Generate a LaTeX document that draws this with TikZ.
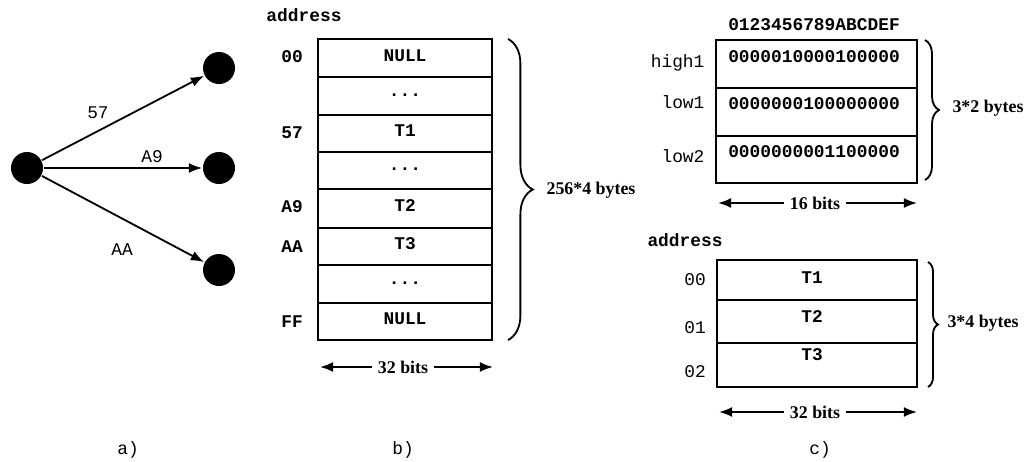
\documentclass[tikz,border=0pt]{standalone}
\usepackage{fontspec}
\setmainfont{Liberation Serif}
\setmonofont{Liberation Mono}
\usetikzlibrary{arrows.meta,decorations.pathreplacing}
\newcommand{\rowdots}{...}

\begin{document}
\begin{tikzpicture}[x=0.025cm,y=-0.025cm,line width=1.3pt,>={Latex[length=3.3mm,width=2.5mm]},
  mono/.style={font=\fontsize{12.7}{14}\selectfont\ttfamily},
  bmono/.style={font=\fontsize{12.7}{14}\selectfont\ttfamily\bfseries},
  note/.style={font=\fontsize{12.7}{14}\selectfont\bfseries},
  vertex/.style={circle,fill=black,inner sep=0pt,minimum size=0.8cm},
  outer/.style={line width=2pt},
  inner/.style={line width=1.3pt},
  bracer/.style={decorate,line width=1.3pt,decoration={brace,amplitude=#1}}]
  \useasboundingbox (0,0) rectangle (1024,461);
  % a) tree
  \node[vertex] (src) at (27,168) {};
  \node[vertex] (ta) at (219,68) {};
  \node[vertex] (tb) at (219,168) {};
  \node[vertex] (tc) at (219,270) {};
  \draw[->] (src) -- (ta);
  \draw[->] (src) -- (tb);
  \draw[->] (src) -- (tc);
  \node[mono] (l57) at (98,113) {57};
  \node[mono] (la9) at (152,157) {A9};
  \node[mono] (laa) at (122,250) {AA};
  \node[mono] (capa) at (128,450) {a)};
  % b) full table
  \node[bmono] (addrb) at (304,15) {address};
  \draw[outer] (318,39) rectangle (492,340);
  \foreach \y in {77,115,152,189,228,265,303}
    \draw[inner] (318,\y) -- (492,\y);
  \foreach \t/\y/\n in {NULL/56/b0,\rowdots/95/b1,T1/131/b2,\rowdots/169/b3,T2/206/b4,T3/244/b5,\rowdots/283/b6,NULL/319/b7}
    \node[bmono] (\n) at (405,\y) {\t};
  \foreach \t/\y/\n in {00/57/ab0,57/133/ab2,A9/207/ab4,AA/247/ab5,FF/322/ab7}
    \node[bmono] (\n) at (292,\y) {\t};
  \draw[bracer=0.62cm] (508,39) -- (508,340);
  \node[note] (szb) at (591,190) {256*4 bytes};
  \node[note] (wb) at (403,367) {32 bits};
  \coordinate (wbl) at (320,367); \coordinate (wbr) at (493,367);
  \draw[->] (wb) -- (wbl); \draw[->] (wb) -- (wbr);
  \node[mono] (capb) at (403,450) {b)};
  % c) bit masks
  \node[bmono] (hexc) at (814,25) {0123456789ABCDEF};
  \draw[outer] (716,40) rectangle (917,183);
  \draw[inner] (716,88) -- (917,88);
  \draw[inner] (716,136) -- (917,136);
  \node[bmono] (bits1) at (814,57) {0000010000100000};
  \node[bmono] (bits2) at (814,104) {0000000100000000};
  \node[bmono] (bits3) at (814,152) {0000000001100000};
  \node[mono,anchor=east] (hi1) at (710,63) {high1};
  \node[mono,anchor=east] (lo1) at (710,102) {low1};
  \node[mono,anchor=east] (lo2) at (710,156) {low2};
  \draw[bracer=0.35cm] (925,40) -- (925,180);
  \node[note] (szc) at (988,108) {3*2 bytes};
  \node[note] (wc) at (815,203) {16 bits};
  \coordinate (wcl) at (718,203); \coordinate (wcr) at (917,203);
  \draw[->] (wc) -- (wcl); \draw[->] (wc) -- (wcr);
  % c) compact table
  \node[bmono] (addrc) at (685,240) {address};
  \draw[outer] (717,260) rectangle (917,387);
  \draw[inner] (717,300) -- (917,300);
  \draw[inner] (717,343) -- (917,343);
  \node[bmono] (c0) at (812,278) {T1};
  \node[bmono] (c1) at (812,317) {T2};
  \node[bmono] (c2) at (812,355) {T3};
  \node[mono] (ac0) at (695,280) {00};
  \node[mono] (ac1) at (695,328) {01};
  \node[mono] (ac2) at (695,372) {02};
  \draw[bracer=0.25cm] (928,262) -- (928,387);
  \node[note] (szd) at (983,323) {3*4 bytes};
  \node[note] (wd) at (815,412) {32 bits};
  \coordinate (wdl) at (719,412); \coordinate (wdr) at (917,412);
  \draw[->] (wd) -- (wdl); \draw[->] (wd) -- (wdr);
  \node[mono] (capc) at (820,450) {c)};
\end{tikzpicture}
\end{document}
